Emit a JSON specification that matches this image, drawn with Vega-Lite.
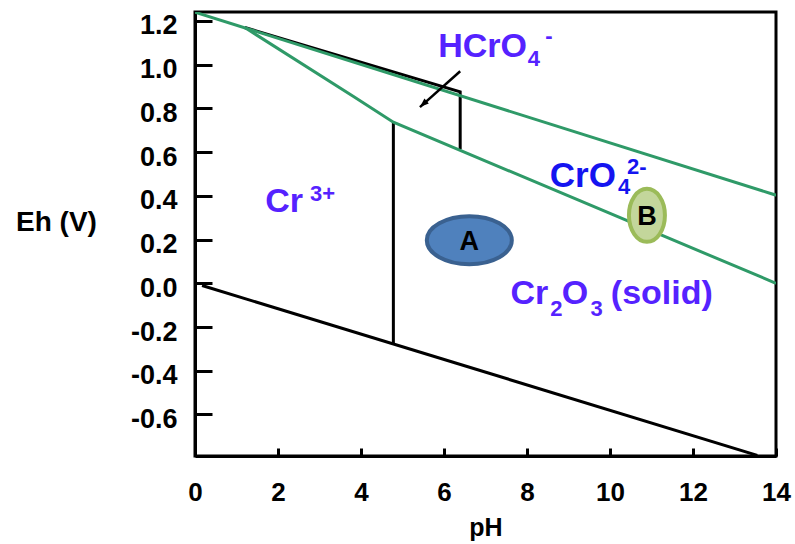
{
  "$schema": "https://vega.github.io/schema/vega-lite/v6.json",
  "width": 581,
  "height": 444,
  "autosize": "none",
  "padding": {"left": 195, "top": 12, "right": 19, "bottom": 88},
  "background": "white",
  "config": {
    "view": {"stroke": "black", "strokeWidth": 3},
    "axis": {
      "grid": false,
      "domainColor": "black",
      "domainWidth": 3,
      "tickColor": "black",
      "tickWidth": 3,
      "labelFont": "Liberation Sans",
      "labelFontWeight": "bold",
      "labelFontSize": 26,
      "labelColor": "black",
      "labelFlush": false,
      "titleFont": "Liberation Sans",
      "titleFontWeight": "bold",
      "titleFontSize": 25,
      "titleColor": "black"
    },
    "text": {"font": "Liberation Sans", "fontWeight": "bold"}
  },
  "datasets": {
    "blackLines": [
      {"seg": "a", "i": 0, "pH": 1.2, "Eh": 1.17},
      {"seg": "a", "i": 1, "pH": 6.39, "Eh": 0.876},
      {"seg": "a", "i": 2, "pH": 6.39, "Eh": 0.613},
      {"seg": "b", "i": 0, "pH": 4.78, "Eh": 0.737},
      {"seg": "b", "i": 1, "pH": 4.78, "Eh": -0.275},
      {"seg": "c", "i": 0, "pH": 0.17, "Eh": -0.01},
      {"seg": "c", "i": 1, "pH": 13.55, "Eh": -0.787}
    ],
    "greenLines": [
      {"seg": "water", "i": 0, "pH": 0, "Eh": 1.24},
      {"seg": "water", "i": 1, "pH": 14, "Eh": 0.403},
      {"seg": "cr", "i": 0, "pH": 1.2, "Eh": 1.17},
      {"seg": "cr", "i": 1, "pH": 3.81, "Eh": 0.856},
      {"seg": "cr", "i": 2, "pH": 4.78, "Eh": 0.737},
      {"seg": "cr", "i": 3, "pH": 14, "Eh": 0.0}
    ],
    "arrow": [
      {"pH": 6.39, "Eh": 0.97, "pH2": 5.42, "Eh2": 0.806}
    ],
    "sites": [
      {"name": "A", "pH": 6.61, "Eh": 0.197},
      {"name": "B", "pH": 10.89, "Eh": 0.311}
    ],
    "purpleBig": [
      {"t": "HCrO", "pH": 5.86, "Eh": 1.034},
      {"t": "Cr", "pH": 1.69, "Eh": 0.325},
      {"t": "Cr", "pH": 7.6, "Eh": -0.096},
      {"t": "O", "pH": 8.84, "Eh": -0.096},
      {"t": "(solid)", "pH": 10.02, "Eh": -0.096}
    ],
    "blueBig": [
      {"t": "CrO", "pH": 8.55, "Eh": 0.439}
    ],
    "purpleSmall": [
      {"t": "4", "pH": 8.02, "Eh": 0.993},
      {"t": "-", "pH": 8.44, "Eh": 1.098},
      {"t": "3+", "pH": 2.77, "Eh": 0.375},
      {"t": "2", "pH": 8.56, "Eh": -0.151},
      {"t": "3", "pH": 9.53, "Eh": -0.151}
    ],
    "blueSmall": [
      {"t": "4", "pH": 10.19, "Eh": 0.407},
      {"t": "2-", "pH": 10.41, "Eh": 0.499}
    ]
  },
  "encoding": {
    "x": {
      "field": "pH",
      "type": "quantitative",
      "scale": {"domain": [0, 14], "nice": false, "zero": false},
      "axis": {
        "title": "pH",
        "values": [0, 2, 4, 6, 8, 10, 12, 14],
        "tickSize": -8,
        "labelPadding": 31,
        "titleY": 71,
        "titleBaseline": "middle"
      }
    },
    "y": {
      "field": "Eh",
      "type": "quantitative",
      "scale": {"domain": [-0.79, 1.241], "nice": false, "zero": false},
      "axis": {
        "title": "Eh (V)",
        "values": [-0.6, -0.4, -0.2, 0, 0.2, 0.4, 0.6, 0.8, 1.0, 1.2],
        "labelExpr": "datum.value < 0 ? '-' + format(-datum.value, '.1f') : format(datum.value, '.1f')",
        "labelFontSize": 27,
        "tickSize": -17,
        "labelPadding": 35,
        "labelOffset": 5,
        "titleAngle": 0,
        "titleX": -139,
        "titleY": 210,
        "titleAlign": "center",
        "titleBaseline": "middle",
        "titleFontSize": 28
      }
    }
  },
  "layer": [
    {
      "data": {"name": "blackLines"},
      "mark": {"type": "line", "color": "black", "strokeWidth": 3, "clip": true},
      "encoding": {"detail": {"field": "seg"}, "order": {"field": "i"}}
    },
    {
      "data": {"name": "greenLines"},
      "mark": {"type": "line", "color": "#2f9a68", "strokeWidth": 3, "clip": true},
      "encoding": {"detail": {"field": "seg"}, "order": {"field": "i"}}
    },
    {
      "data": {"name": "arrow"},
      "mark": {"type": "rule", "color": "black", "strokeWidth": 2.5},
      "encoding": {"x2": {"field": "pH2"}, "y2": {"field": "Eh2"}}
    },
    {
      "data": {"name": "arrow"},
      "mark": {
        "type": "point",
        "shape": "M0,0L-0.55,1.5L0.55,1.5Z",
        "size": 144,
        "angle": 228,
        "filled": true,
        "color": "black",
        "opacity": 1
      },
      "encoding": {
        "x": {"field": "pH2", "type": "quantitative"},
        "y": {"field": "Eh2", "type": "quantitative"}
      }
    },
    {
      "data": {"name": "sites"},
      "transform": [{"filter": "datum.name == 'A'"}],
      "mark": {
        "type": "point",
        "shape": "M-1,0A1,0.565,0,1,0,1,0A1,0.565,0,1,0,-1,0Z",
        "size": 7225,
        "filled": false,
        "fill": "#4f81bd",
        "fillOpacity": 1,
        "stroke": "#3a6190",
        "strokeWidth": 4,
        "opacity": 1
      }
    },
    {
      "data": {"name": "sites"},
      "transform": [{"filter": "datum.name == 'B'"}],
      "mark": {
        "type": "point",
        "shape": "M-0.679,0A0.679,1,0,1,0,0.679,0A0.679,1,0,1,0,-0.679,0Z",
        "size": 2809,
        "filled": false,
        "fill": "#c3d69b",
        "fillOpacity": 1,
        "stroke": "#9bbb59",
        "strokeWidth": 4,
        "opacity": 1
      }
    },
    {
      "data": {"name": "sites"},
      "mark": {"type": "text", "fontSize": 27, "color": "black", "align": "center", "baseline": "middle", "dy": 2},
      "encoding": {"text": {"field": "name"}}
    },
    {
      "data": {"name": "purpleBig"},
      "mark": {"type": "text", "fontSize": 34, "color": "#5522ff", "align": "left", "baseline": "alphabetic"},
      "encoding": {"text": {"field": "t"}}
    },
    {
      "data": {"name": "blueBig"},
      "mark": {"type": "text", "fontSize": 35, "color": "#1414f0", "align": "left", "baseline": "alphabetic"},
      "encoding": {"text": {"field": "t"}}
    },
    {
      "data": {"name": "purpleSmall"},
      "mark": {"type": "text", "fontSize": 22, "color": "#5522ff", "align": "left", "baseline": "alphabetic"},
      "encoding": {"text": {"field": "t"}}
    },
    {
      "data": {"name": "blueSmall"},
      "mark": {"type": "text", "fontSize": 22, "color": "#1414f0", "align": "left", "baseline": "alphabetic"},
      "encoding": {"text": {"field": "t"}}
    }
  ]
}
